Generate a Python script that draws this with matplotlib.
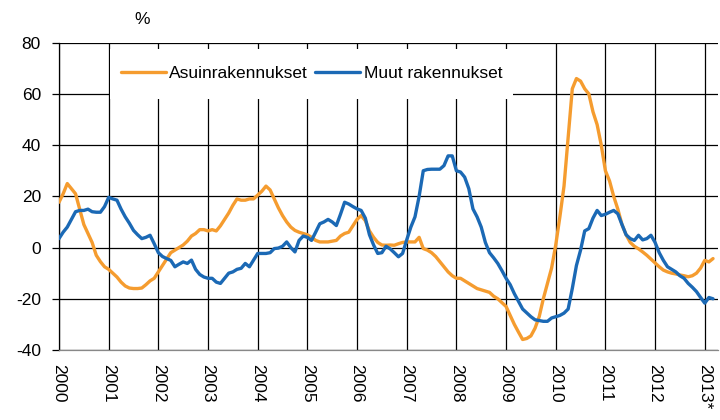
import matplotlib
matplotlib.use("Agg")
import matplotlib.pyplot as plt
from matplotlib.patches import Rectangle
import numpy as np

plt.rcParams['font.family'] = ['Liberation Sans', 'DejaVu Sans']

year_labels = ['2000', '2001', '2002', '2003', '2004', '2005', '2006',
               '2007', '2008', '2009', '2010', '2011', '2012', '2013*']
series_names = ['Asuinrakennukset', 'Muut rakennukset']

# Monthly values, Jan 2000 - Mar 2013
asuin = [
    17.7, 21, 25, 23, 21, 15, 9, 5.5, 2, -3, -5.5, -7.5,            # 2000
    -8.5, -10, -11.5, -13.5, -15, -15.8, -16, -16, -15.8, -14.5, -13, -12,  # 2001
    -9.5, -7, -4.5, -2, -1, 0, 1, 2.5, 4.5, 5.5, 7, 7,               # 2002
    6.5, 7, 6.5, 8.5, 11, 13.5, 16.5, 19, 18.5, 18.5, 19, 19,         # 2003
    20.5, 22, 24, 22.5, 19, 15.5, 12.5, 10, 8, 6.7, 6, 5.5,           # 2004
    5, 4, 2.8, 2.2, 2.2, 2.2, 2.5, 2.8, 4.5, 5.5, 6, 8.5,             # 2005
    11, 12.5, 10.5, 6.5, 4, 2, 1, 0.9, 1, 0.9, 1.5, 2,                # 2006
    2.2, 2.2, 2.2, 4, -0.4, -1, -2, -3.5, -5.5, -7.5, -9.5, -11,      # 2007
    -12, -12, -13, -14, -15, -16, -16.5, -17, -17.5, -19, -20, -21.5, # 2008
    -23, -26.5, -30, -33, -35.9, -35.5, -34.5, -31.5, -27, -20, -14, -8,  # 2009
    1, 12, 24, 43, 62, 66, 65, 62, 60, 53, 48, 40,                    # 2010
    30, 26, 20, 15, 9, 5, 2, 0.5, -0.5, -1.7, -3, -4.5,               # 2011
    -6, -7.5, -8.8, -9.5, -10, -10.3, -10.7, -11, -11.4, -11, -10, -8,  # 2012
    -5, -5.6, -4.3,                                                   # 2013
]
muut = [
    3.5, 6, 8, 11, 14, 14.5, 14.5, 15, 14, 13.8, 13.8, 16,            # 2000
    19.6, 19, 18.5, 15, 12, 9.5, 6.7, 5, 3.5, 4, 4.8, 1.5,            # 2001
    -2, -3.5, -4.3, -5, -7.5, -6.5, -5.6, -6.2, -4.9, -8.5, -10.5, -11.5,  # 2002
    -12, -12, -13.5, -14, -12, -10, -9.5, -8.5, -8.1, -6.2, -7.5, -4.9,    # 2003
    -2.3, -2.3, -2.3, -2, -0.4, -0.2, 0.5, 2.2, 0, -1.7, 2.8, 4.5,    # 2004
    4, 2.8, 6, 9.3, 10, 11, 10, 8.6, 13, 17.7, 17, 16,                # 2005
    15.1, 14.5, 11.5, 5, 1, -2.3, -2, 0.5, -0.5, -2, -3.6, -2.3,      # 2006
    3, 8, 12, 20, 30, 30.5, 30.6, 30.6, 30.6, 32, 35.8, 35.8,         # 2007
    30, 29.5, 27.5, 23, 15.1, 12, 8, 2, -2, -4, -6.2, -9,             # 2008
    -12, -14.5, -18, -21, -24, -25.5, -27, -28.2, -28.5, -28.8, -28.8, -27.5,  # 2009
    -27, -26.5, -25.6, -24, -16, -7, -1, 6.5, 7.4, 11.5, 14.5, 12.5,  # 2010
    13, 13.8, 14.5, 13.2, 9, 5, 3.5, 2.8, 4.8, 3, 3.5, 4.8,           # 2011
    2, -2, -5, -7.5, -8.5, -9.5, -11, -12, -14, -15.5, -17.2, -19.5,  # 2012
    -21.7, -19.5, -20,                                                # 2013
]
y_ticks = [-40, -20, 0, 20, 40, 60, 80]

orange = '#F59C2F'
blue = '#1B69B5'

fig = plt.figure(figsize=(7.2, 4.2), dpi=100)
ax = fig.add_axes([59/720, 70/420, 659/720, 307.3/420])

x = np.arange(len(asuin))
ax.plot(x, asuin, color=orange, lw=2.4, zorder=3, label=series_names[0],
        solid_joinstyle='round', solid_capstyle='round')
ax.plot(np.arange(len(muut)), muut, color=blue, lw=2.4, zorder=4, label=series_names[1],
        solid_joinstyle='round', solid_capstyle='round')

ax.set_xlim(0, 159.2)
ax.set_ylim(-40, 80)
ax.set_yticks(y_ticks)
ax.set_yticklabels([str(v) for v in y_ticks], fontsize=12.5)
ax.set_xticks(np.arange(len(year_labels)) * 12)
ax.set_xticklabels(year_labels, rotation=270, fontsize=12.5, ha='center', va='top')

ax.tick_params(axis='y', length=5, width=0.9, pad=8, color='black')
ax.tick_params(axis='x', length=0, pad=10)

ax.set_axisbelow(True)
ax.grid(True, color='black', lw=0.9)
for s in ['top', 'right']:
    ax.spines[s].set_visible(False)
ax.spines['left'].set_color('black')
ax.spines['left'].set_linewidth(0.9)
ax.spines['bottom'].set_color('#888888')
ax.spines['bottom'].set_linewidth(0.9)

# white legend box hiding gridlines
ax.add_patch(Rectangle((0.078, 0.817), 0.611, 0.162, transform=ax.transAxes,
                       facecolor='white', edgecolor='none', zorder=1.5))
leg = ax.legend(loc='center', bbox_to_anchor=(0.383, 0.899), ncol=2, frameon=False,
                fontsize=12.5, handlelength=2.6, handletextpad=0.2, columnspacing=0.4)
leg.set_zorder(6)

fig.text(142/720, 1 - 19/420, '%', ha='center', va='center', fontsize=12.5)

fig.savefig('out.png', dpi=100)
